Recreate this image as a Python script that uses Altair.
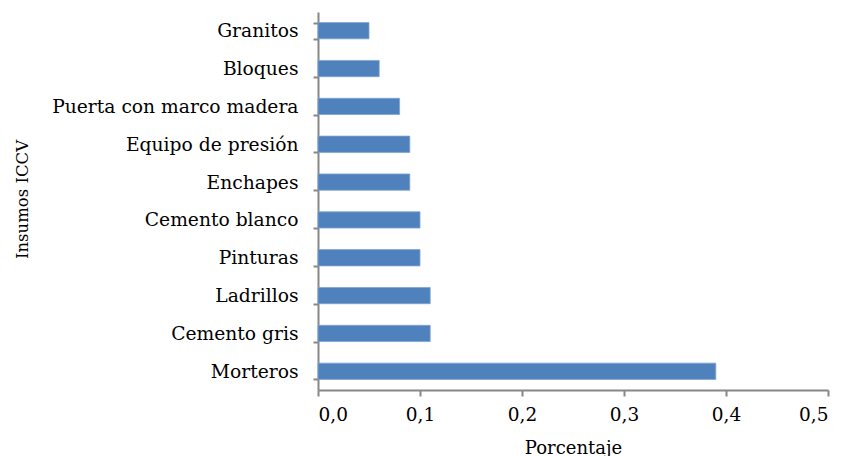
import altair as alt
import pandas as pd

categorias = ["Granitos", "Bloques", "Puerta con marco madera", "Equipo de presión",
              "Enchapes", "Cemento blanco", "Pinturas", "Ladrillos", "Cemento gris", "Morteros"]
valores = [0.05, 0.06, 0.08, 0.09, 0.09, 0.10, 0.10, 0.11, 0.11, 0.39]
ticks_x = [0.0, 0.1, 0.2, 0.3, 0.4, 0.5]

df = pd.DataFrame({"insumo": categorias, "porcentaje": valores})

FONT = "DejaVu Serif"
AXIS_COLOR = "#878787"

chart = alt.Chart(df).mark_bar(color="#4F81BD", stroke="#7FA3D3", strokeWidth=0.8).encode(
    y=alt.Y("insumo:N", sort=categorias,
            scale=alt.Scale(paddingInner=0.57, paddingOuter=0.28),
            axis=alt.Axis(title="Insumos ICCV", tickBand="extent", tickSize=5,
                          tickWidth=2, tickColor=AXIS_COLOR, domainColor=AXIS_COLOR,
                          domainWidth=2, labelPadding=15, labelFont=FONT, labelFontSize=18.7,
                          labelLimit=0,
                          labelColor="#000000", titleFont=FONT, titleFontSize=16.5,
                          titleFontWeight="normal", titleColor="#000000",
                          titleX=-296, titleY=187, titleAngle=-90, titleAlign="center",
                          titleBaseline="middle")),
    x=alt.X("porcentaje:Q",
            scale=alt.Scale(domain=[0, 0.5], nice=False),
            axis=alt.Axis(title="Porcentaje", values=ticks_x, grid=False, tickSize=6,
                          tickWidth=2, tickColor=AXIS_COLOR, domainColor=AXIS_COLOR,
                          domainWidth=2, labelPadding=9, labelFont=FONT, labelFontSize=18.5,
                          labelColor="#000000",
                          labelExpr="replace(format(datum.value, '.1f'), '.', ',')",
                          titleFont=FONT, titleFontSize=18, titleFontWeight="normal",
                          titleColor="#000000", titleY=63, titleBaseline="alphabetic")),
).properties(
    width=510, height=378,
    autosize=alt.AutoSizeParams(type="none"),
    padding={"left": 310, "top": 4, "right": 10, "bottom": 80},
).configure_view(stroke=None)

chart.save("out.html", embed_options={"renderer": "svg", "actions": False})
